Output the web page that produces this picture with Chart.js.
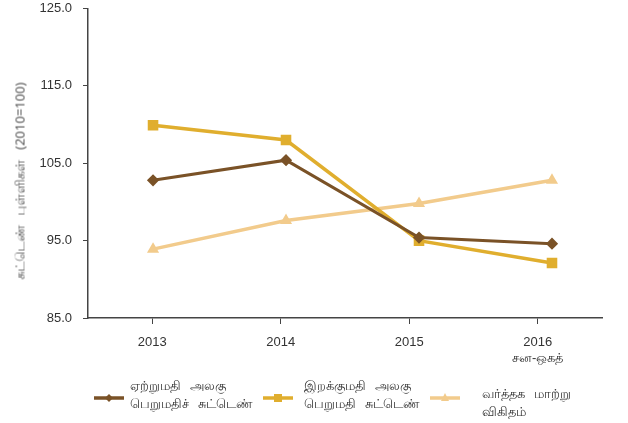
<!DOCTYPE html>
<html>
<head>
<meta charset="utf-8">
<script src="https://cdn.jsdelivr.net/npm/chart.js@4/dist/chart.umd.min.js"></script>
<style>
  body { margin: 0; background: #fff; }
  #wrap { position: relative; width: 628px; height: 423px; }
  .leg { position: absolute; font-family: "Noto Sans", "DejaVu Sans", sans-serif; font-size: 13px; color: #333; line-height: 18px; white-space: nowrap; word-spacing: 6px; }
  .swatch { position: absolute; }
  #ytitle { position: absolute; left: 20px; top: 181px; transform: translate(-50%, -50%) rotate(-90deg); font-family: "Noto Sans", "DejaVu Sans", sans-serif; font-size: 13px; font-weight: normal; color: #555; white-space: nowrap; word-spacing: 6px; }
</style>
</head>
<body>
<div id="wrap">
  <canvas id="chart1" width="628" height="423"></canvas>
  <div id="ytitle">சுட்டெண் புள்ளிகள் (2010=100)</div>
</div>
<script>
// chart data
const years = ["2013", "2014", "2015", ["2016", "சன-ஒகத்"]];
const exportIndex = [102.8, 105.4, 95.4, 94.6];
const importIndex = [109.9, 108.0, 95.0, 92.1];
const termsOfTrade = [93.9, 97.6, 99.8, 102.8];
const yTicks = [85, 95, 105, 115, 125];

const seriesNames = [
  ["ஏற்றுமதி அலகு", "பெறுமதிச் சுட்டெண்"],
  ["இறக்குமதி அலகு", "பெறுமதி சுட்டெண்"],
  ["வர்த்தக மாற்று", "விகிதம்"],
];
const colors = ["#7a5227", "#e0ae2e", "#f2cb8c"];
const pointStyles = ["rectRot", "rect", "triangle"];

// points in the original sit slightly wider than the category slots
const toPoints = (arr) => arr.map((v, i) => ({ x: i, y: v }));

const ctx1 = document.getElementById("chart1").getContext("2d");
new Chart(ctx1, {
  type: "line",
  data: {
    labels: years,
    datasets: [
      {
        label: seriesNames[0].join(" "),
        data: toPoints(exportIndex),
        borderColor: colors[0],
        backgroundColor: colors[0],
        borderWidth: 3,
        pointStyle: pointStyles[0],
        pointRadius: 4,
        xAxisID: "x",
      },
      {
        label: seriesNames[1].join(" "),
        data: toPoints(importIndex),
        borderColor: colors[1],
        backgroundColor: colors[1],
        borderWidth: 3.5,
        pointStyle: pointStyles[1],
        pointRadius: 5,
        xAxisID: "x",
      },
      {
        label: seriesNames[2].join(" "),
        data: toPoints(termsOfTrade),
        borderColor: colors[2],
        backgroundColor: colors[2],
        borderWidth: 3.5,
        pointStyle: pointStyles[2],
        pointRadius: 3.5,
        xAxisID: "x",
      },
    ],
  },
  options: {
    responsive: false,
    animation: false,
    layout: { padding: { top: 0, right: 26, left: 0, bottom: 0 } },
    plugins: {
      legend: { display: false },
      tooltip: { enabled: false },
    },
    scales: {
      x: {
        type: "linear",
        display: false,
        min: -0.489,
        max: 3.376,
      },
      xc: {
        type: "category",
        position: "bottom",
        offset: true,
        grid: {
          drawOnChartArea: false,
          drawTicks: true,
          tickLength: 6,
          color: "#444",
          lineWidth: 1,
        },
        border: { display: true, color: "#444", width: 1.5 },
        ticks: {
          color: "#333",
          font: { family: "Liberation Sans", size: 13 },
          padding: 11,
          maxRotation: 0,
        },
        afterFit: (scale) => {
          scale.height = 105;
        },
      },
      y: {
        min: 85,
        max: 125,
        afterBuildTicks: (scale) => {
          scale.ticks = yTicks.map((v) => ({ value: v }));
        },
        grid: {
          drawOnChartArea: false,
          drawTicks: true,
          tickLength: 5,
          color: "#444",
        },
        border: { display: true, color: "#444", width: 1.5 },
        ticks: {
          color: "#333",
          font: { family: "Liberation Sans", size: 13 },
          padding: 11,
          callback: (v) => Number(v).toFixed(1),
        },
        afterFit: (scale) => {
          scale.width = 88;
          scale.paddingTop = 8;
        },
      },
    },
  },
});

// legend at the bottom, built as html
const legendPos = [
  { sx: 94, tx: 130, ty: 376 },
  { sx: 263, tx: 304, ty: 376 },
  { sx: 430, tx: 482, ty: 384 },
];
const wrap = document.getElementById("wrap");
seriesNames.forEach((name, i) => {
  const p = legendPos[i];
  let marker = "";
  if (pointStyles[i] === "rectRot") {
    marker = '<polygon points="15,1 19,5 15,9 11,5" fill="' + colors[i] + '"/>';
  } else if (pointStyles[i] === "rect") {
    marker = '<rect x="11" y="1" width="8" height="8" fill="' + colors[i] + '"/>';
  } else {
    marker = '<polygon points="15,0 19,8 11,8" fill="' + colors[i] + '"/>';
  }
  const svg = document.createElement("div");
  svg.className = "swatch";
  svg.style.left = p.sx + "px";
  svg.style.top = "389px";
  svg.innerHTML =
    '<svg width="30" height="10"><line x1="0" y1="5" x2="30" y2="5" stroke="' +
    colors[i] + '" stroke-width="3.5"/>' + marker + "</svg>";
  wrap.appendChild(svg);

  const txt = document.createElement("div");
  txt.className = "leg";
  txt.style.left = p.tx + "px";
  txt.style.top = p.ty + "px";
  txt.innerHTML = name.join("<br>");
  wrap.appendChild(txt);
});
</script>
</body>
</html>
